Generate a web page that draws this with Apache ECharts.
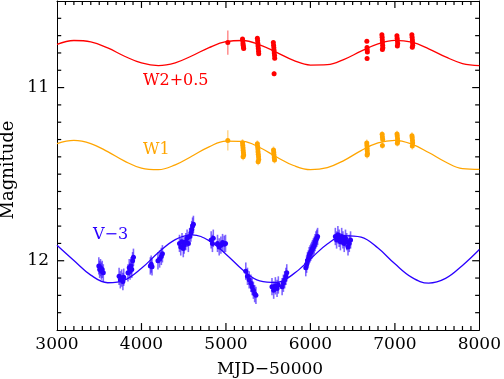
<!DOCTYPE html>
<html><head><meta charset="utf-8">
<script src="https://cdn.jsdelivr.net/npm/echarts@6/dist/echarts.min.js"></script>
<style>html,body{margin:0;padding:0;background:#fff}#c{width:504px;height:379px}</style>
</head><body><div id="c"></div>
<script>
// ---- data ----
const xTicks = [3000,4000,5000,6000,7000,8000];
const yTickLabels = [11,12];
const modelMjd = [3000,3200,3400,3600,3800,4000,4200,4400,4600,4800,5000,5200,5400,5600,5800,6000,6200,6400,6600,6800,7000,7200,7400,7600,7800,8000];
const w2Model = [10.751,10.728,10.736,10.771,10.819,10.858,10.873,10.857,10.816,10.769,10.735,10.728,10.753,10.797,10.843,10.870,10.868,10.837,10.790,10.748,10.727,10.738,10.776,10.823,10.861,10.873];
const w1Model = [11.323,11.305,11.323,11.370,11.425,11.465,11.474,11.446,11.395,11.342,11.309,11.311,11.346,11.401,11.450,11.474,11.462,11.420,11.364,11.320,11.305,11.327,11.375,11.430,11.468,11.472];
const vModel  = [11.911,11.999,12.083,12.127,12.112,12.044,11.953,11.878,11.851,11.884,11.962,12.053,12.116,12.125,12.076,11.990,11.903,11.855,11.864,11.927,12.018,12.096,12.129,12.102,12.027,11.935];

const w2Mjd = [5022, 5196,5199,5202,5204,5207,5210, 5372,5375,5378,5380,5383,5386,5388, 5561,5564,5567,5569,5572,5575,5577,5570, 6668,6670,6672,6674,6671, 6846,6849,6851,6853,6855,6857,6852, 7024,7027,7030,7033,7029, 7201,7204,7207,7209,7211,7206];
const w2Mag = [10.74, 10.72,10.73,10.745,10.755,10.765,10.775, 10.715,10.73,10.745,10.76,10.775,10.79,10.805, 10.74,10.755,10.77,10.785,10.80,10.815,10.83,10.92, 10.732,10.768,10.782,10.795,10.832, 10.695,10.71,10.725,10.74,10.755,10.77,10.78, 10.70,10.715,10.73,10.745,10.76, 10.695,10.71,10.725,10.74,10.755,10.767];
const w2Err = [0.07, 0.012,0.012,0.012,0.012,0.012,0.012, 0.012,0.012,0.012,0.012,0.012,0.012,0.012, 0.012,0.012,0.012,0.012,0.012,0.012,0.012,0.015, 0.012,0.012,0.012,0.012,0.012, 0.012,0.012,0.012,0.012,0.012,0.012,0.012, 0.012,0.012,0.012,0.012,0.012, 0.012,0.012,0.012,0.012,0.012,0.012];

const w1Mjd = [5022, 5196,5199,5202,5204,5207,5210,5203, 5372,5375,5378,5380,5383,5386,5388,5381, 5563,5566,5569,5572,5575, 6667,6669,6671,6673,6675,6671, 6849,6852,6855,6852, 7025,7028,7031,7033,7029, 7202,7205,7208,7210,7206];
const w1Mag = [11.305, 11.318,11.333,11.348,11.362,11.376,11.39,11.40, 11.325,11.34,11.355,11.37,11.385,11.40,11.415,11.428, 11.36,11.375,11.39,11.405,11.418, 11.32,11.335,11.35,11.365,11.38,11.39, 11.27,11.285,11.30,11.335, 11.268,11.28,11.295,11.31,11.322, 11.278,11.29,11.305,11.32,11.338];
const w1Err = [0.058, 0.02,0.02,0.02,0.02,0.02,0.02,0.02, 0.02,0.02,0.02,0.02,0.02,0.02,0.02,0.02, 0.02,0.02,0.02,0.02,0.02, 0.02,0.02,0.02,0.02,0.02,0.02, 0.018,0.018,0.018,0.018, 0.018,0.018,0.018,0.018,0.018, 0.02,0.02,0.02,0.02,0.02];

const vMjd = [3495,3505,3515,3525,3535,3548, 3735,3750,3765,3780,3790, 3840,3855,3865,3875,3885,3895,3905, 4105,4115,4125, 4195,4215,4235,4248, 4450,4465,4480,4495,4505, 4525,4540,4555,4570,4585,4595,4605,4615, 4825,4840,4850, 4900,4920,4940,4960,4980,4995, 5235,5255,5275,5295,5310,5325,5340,5355, 5545,5565,5585,5605,5620, 5665,5680,5695,5710,5720, 5945,5955,5965,5975,5985,5995,6005,6015,6025,6035,6045,6055,6065,6075,6085, 6295,6310,6325,6340,6355,6370,6385,6400,6415,6430,6445,6460,6475];
const vMag = [12.03,12.05,12.04,12.06,12.05,12.07, 12.09,12.11,12.10,12.12,12.095, 12.07,12.04,12.06,12.03,12.05,12.00,11.98, 12.03,12.02,12.035, 12.00,11.99,11.975,11.96, 11.90,11.92,11.89,11.93,11.91, 11.89,11.87,11.90,11.86,11.84,11.82,11.80,11.79, 11.88,11.90,11.87, 11.90,11.92,11.91,11.895,11.905,11.90, 12.06,12.09,12.11,12.13,12.15,12.17,12.19,12.20, 12.15,12.17,12.145,12.16,12.14, 12.15,12.13,12.11,12.09,12.07, 12.04,12.02,12.00,11.99,11.97,11.96,11.95,11.94,11.93,11.92,11.91,11.895,11.88,11.87,11.86, 11.86,11.88,11.85,11.87,11.89,11.86,11.88,11.90,11.87,11.89,11.92,11.90,11.88];
const vErr = 0.05;

// ---- colors ----
const RED = '#ff0000', ORANGE = '#ffa500', BLUE = '#2a00ff';
const FONT = 'DejaVu Serif';
const X_MIN = 3000, X_MAX = 8000, Y_MIN = 10.5, Y_MAX = 12.4;

function pts(mjd, mag, err){ return mjd.map((m,i)=>[m, mag[i], Array.isArray(err)?err[i]:err]); }
function errSeries(data, color, lw, op){
  return {type:'custom', data:data, encode:{x:0,y:1}, clip:true, silent:true, z:3,
    renderItem:function(params, api){
      const x=api.value(0), y=api.value(1), e=api.value(2);
      const p1=api.coord([x,y-e]), p2=api.coord([x,y+e]);
      return {type:'line', shape:{x1:p1[0],y1:p1[1],x2:p2[0],y2:p2[1]}, style:{stroke:color, lineWidth:lw, opacity:op}};
    }};
}
function dotSeries(data, color, size){
  return {type:'scatter', data:data.map(d=>[d[0],d[1]]), symbol:'circle', symbolSize:size, itemStyle:{color:color, opacity:1}, z:4, silent:true};
}
function lineSeries(ys, color){
  return {type:'line', data:modelMjd.map((m,i)=>[m, ys[i]]), smooth:0.4, showSymbol:false, lineStyle:{color:color, width:1.3}, z:2, silent:true};
}

// tick marks drawn through the axis scales
const xTickData = [], yTickData = [];
for (let v = X_MIN + 100; v < X_MAX; v += 100) {
  const big = (v % 1000 === 0);
  xTickData.push([v, Y_MAX, big ? 0.04 : 0.023]);
  xTickData.push([v, Y_MIN, big ? -0.04 : -0.023]);
}
for (let k = 106; k <= 123; k++) {
  const big = (k % 10 === 0);
  yTickData.push([X_MIN, k/10, big ? 85 : 50]);
  yTickData.push([X_MAX, k/10, big ? -85 : -50]);
}
function xTickSeries(data){
  return {type:'custom', data:data, encode:{x:0,y:1}, clip:false, silent:true, z:20,
    renderItem:function(params, api){
      const x=api.value(0), y=api.value(1), e=api.value(2);
      const p1=api.coord([x,y]), p2=api.coord([x,y-e]);
      return {type:'line', shape:{x1:p1[0],y1:p1[1],x2:p2[0],y2:p2[1]}, style:{stroke:'#000', lineWidth:1.2}};
    }};
}
function yTickSeries(data){
  return {type:'custom', data:data, encode:{x:0,y:1}, clip:false, silent:true, z:20,
    renderItem:function(params, api){
      const x=api.value(0), y=api.value(1), e=api.value(2);
      const p1=api.coord([x,y]), p2=api.coord([x+e,y]);
      return {type:'line', shape:{x1:p1[0],y1:p1[1],x2:p2[0],y2:p2[1]}, style:{stroke:'#000', lineWidth:1.2}};
    }};
}

const w2 = pts(w2Mjd, w2Mag, w2Err), w1 = pts(w1Mjd, w1Mag, w1Err), vv = pts(vMjd, vMag, vErr);

const axLine = {show:true, onZero:false, lineStyle:{color:'#000', width:1}};

const chart = echarts.init(document.getElementById('c'), null, {renderer:'canvas'});
chart.setOption({
  animation:false,
  backgroundColor:'#fff',
  grid:{left:57, right:22, top:1, bottom:49, containLabel:false},
  xAxis:[
    {type:'value', min:X_MIN, max:X_MAX, interval:1000, position:'bottom', splitLine:{show:false}, axisLine:axLine,
      axisTick:{show:false}, minorTick:{show:false},
      axisLabel:{show:true, fontFamily:FONT, fontSize:17, color:'#000', margin:6, formatter:v=>String(v)}},
    {type:'value', min:X_MIN, max:X_MAX, interval:1000, position:'top', splitLine:{show:false}, axisLine:axLine,
      axisTick:{show:false}, axisLabel:{show:false}}
  ],
  yAxis:[
    {type:'value', min:Y_MIN, max:Y_MAX, inverse:true, position:'left', splitLine:{show:false}, axisLine:axLine,
      axisTick:{show:false},
      axisLabel:{show:true, customValues:yTickLabels, fontFamily:FONT, fontSize:17, color:'#000', margin:8, formatter:v=>String(v)}},
    {type:'value', min:Y_MIN, max:Y_MAX, inverse:true, position:'right', splitLine:{show:false}, axisLine:axLine,
      axisTick:{show:false}, axisLabel:{show:false}}
  ],
  series:[
    lineSeries(w2Model, RED), lineSeries(w1Model, ORANGE), lineSeries(vModel, BLUE),
    errSeries(w2, RED, 1.5, 0.45), errSeries(w1, ORANGE, 1.5, 0.45), errSeries(vv, BLUE, 1.6, 0.6),
    dotSeries(w2, RED, 5), dotSeries(w1, ORANGE, 5), dotSeries(vv, BLUE, 5),
    xTickSeries(xTickData), yTickSeries(yTickData)
  ],
  graphic:[
    {type:'text', left:143, top:73, style:{text:'W2+0.5', fill:RED, font:'16px "DejaVu Serif"'}},
    {type:'text', left:143, top:142, style:{text:'W1', fill:ORANGE, font:'16px "DejaVu Serif"'}},
    {type:'text', left:93, top:227, style:{text:'V\u22123', fill:BLUE, font:'16px "DejaVu Serif"'}},
    {type:'text', x:270, y:370, style:{text:'MJD\u221250000', fill:'#000', font:'17px "DejaVu Serif"', align:'center', verticalAlign:'middle'}},
    {type:'text', x:8, y:170, rotation:Math.PI/2, style:{text:'Magnitude', fill:'#000', font:'18px "DejaVu Serif"', align:'center', verticalAlign:'middle'}}
  ]
});
</script></body></html>
